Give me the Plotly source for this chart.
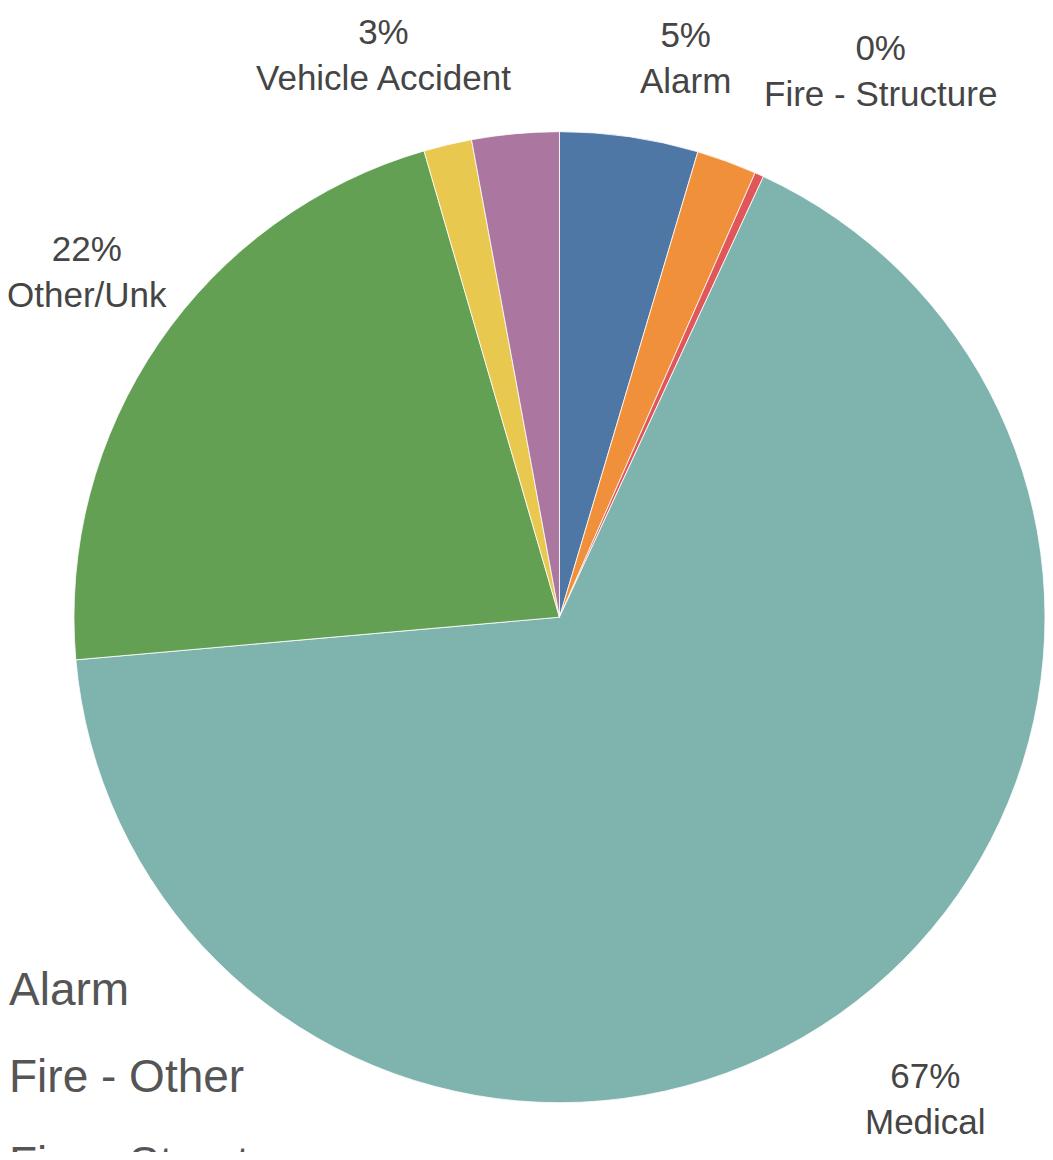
import plotly.graph_objects as go

# ---- data ----
categories = ["Alarm", "Fire - Other", "Fire - Structure", "Medical",
              "Other/Unk", "Service Call", "Vehicle Accident"]
shares = [4.6, 2.0, 0.3, 66.7, 21.9, 1.6, 2.9]
slice_colors = ["#4e77a6", "#f0903a", "#e15759", "#7fb3ae",
                "#63a054", "#e8c84e", "#ab77a0"]
labelled = ["Alarm", "Fire - Structure", "Medical", "Other/Unk", "Vehicle Accident"]
legend_items = ["Alarm", "Fire - Other", "Fire - Structure"]

W, H = 1053, 1160

fig = go.Figure(go.Pie(
    labels=categories,
    values=shares,
    sort=False,
    direction="clockwise",
    rotation=0,
    textinfo="none",
    hoverinfo="label+percent",
    marker=dict(colors=slice_colors, line=dict(color="white", width=0.8)),
    domain=dict(x=[0.0636, 1.0], y=[0.04, 0.895]),
    showlegend=False,
))

# outside slice labels (percent + name), placed like the original
label_pos = {
    "Vehicle Accident": (381, 47),
    "Alarm": (688, 50),
    "Fire - Structure": (886, 63),
    "Other/Unk": (80, 267),
    "Medical": (932, 1106),
}
total = sum(shares)
for cat, val in zip(categories, shares):
    if cat not in labelled:
        continue
    px, py = label_pos[cat]
    pct = round(val / total * 100)
    fig.add_annotation(
        x=px / W, y=1 - py / H, xref="paper", yref="paper",
        xanchor="center", yanchor="middle",
        text=f"{pct}%<br>{cat}", showarrow=False, align="center",
        font=dict(family="Liberation Sans, Arial, sans-serif", size=35, color="#454545"),
    )

# legend text (markers cropped off the left edge in the original)
legend_y = [995, 1083, 1171]
for name, ly in zip(legend_items, legend_y):
    fig.add_annotation(
        x=0, y=1 - ly / H, xref="paper", yref="paper",
        xanchor="left", yanchor="middle", borderpad=0,
        text=name, showarrow=False, align="left",
        font=dict(family="Liberation Sans, Arial, sans-serif", size=46, color="#555555"),
    )

fig.update_layout(
    margin=dict(l=0, r=0, t=0, b=0),
    paper_bgcolor="white",
    plot_bgcolor="white",
)

fig.write_html("out.html")
